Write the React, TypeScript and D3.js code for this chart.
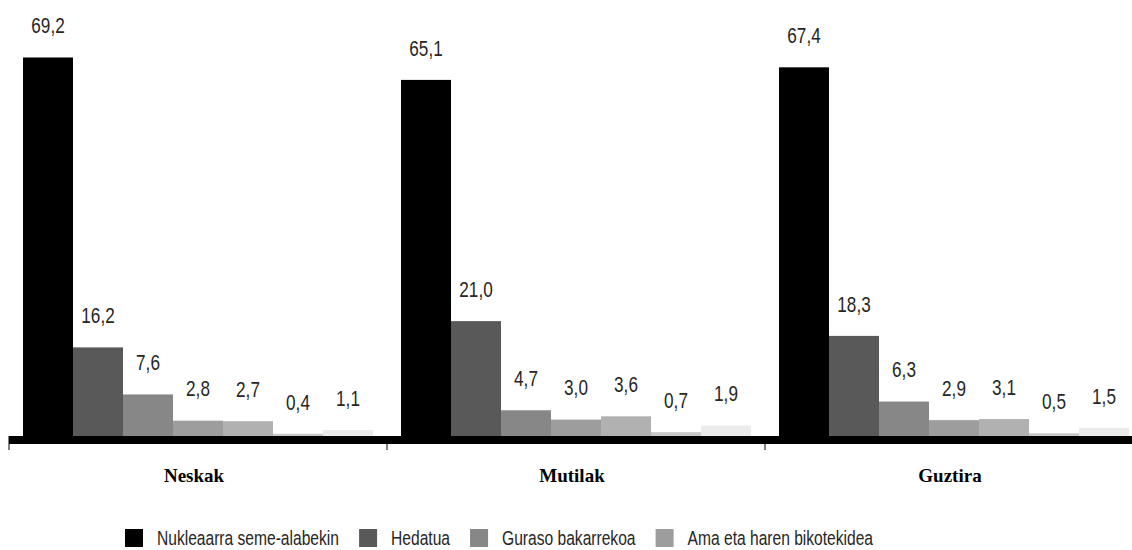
import React from "react";
import * as d3 from "d3";

const categories = ["Neskak", "Mutilak", "Guztira"];
const seriesIndex = [0, 1, 2, 3, 4, 5, 6];
const legendNames = [
  "Nukleaarra seme-alabekin",
  "Hedatua",
  "Guraso bakarrekoa",
  "Ama eta haren bikotekidea",
];
const seriesColors = ["#000000", "#595959", "#878787", "#9d9d9d", "#b1b1b1", "#c8c8c8", "#ebebeb"];
const valuesNeskak = [69.2, 16.2, 7.6, 2.8, 2.7, 0.4, 1.1];
const valuesMutilak = [65.1, 21.0, 4.7, 3.0, 3.6, 0.7, 1.9];
const valuesGuztira = [67.4, 18.3, 6.3, 2.9, 3.1, 0.5, 1.5];
const groupValues = [valuesNeskak, valuesMutilak, valuesGuztira];

const W = 1132;
const H = 550;
const labelFont = "'Liberation Sans', Arial, sans-serif";

function measure(text: string, size: number): number {
  const c = document.createElement("canvas").getContext("2d");
  if (!c) return text.length * size * 0.5;
  c.font = `${size}px "Liberation Sans", Arial, sans-serif`;
  return c.measureText(text).width;
}

function NarrowText(props: {
  x: number;
  y: number;
  size: number;
  sx: number;
  anchor?: string;
  children: string;
}) {
  return (
    <g transform={`translate(${props.x},${props.y}) scale(${props.sx},1)`}>
      <text
        x={0}
        y={0}
        dominantBaseline="central"
        textAnchor={props.anchor || "start"}
        fontFamily={labelFont}
        fontSize={props.size}
        fill="#262626"
      >
        {props.children}
      </text>
    </g>
  );
}

export default function App() {
  const x0 = d3.scaleBand<string>().domain(categories).range([9, 1143]).padding(0);
  const x1 = d3.scaleBand<number>().domain(seriesIndex).range([14, 364]).padding(0);
  const y = d3.scaleLinear().domain([0, 70]).range([436, 53.1]);
  const fmt = (v: number) => d3.format(".1f")(v).replace(".", ",");

  const ticks = categories.map((c) => x0(c) as number);

  // legend layout
  const sw = 18;
  const legendSize = 19.5;
  const legendSx = 0.8;
  let lx = 125;
  const legendItems = legendNames.map((n, i) => {
    const item = { n, i, x: lx };
    const tw = measure(n, legendSize) * legendSx;
    lx += sw + 14 + tw + 20;
    return item;
  });

  return (
    <svg
      width={W}
      height={H}
      style={{ position: "absolute", left: 0, top: 0, background: "#fff" }}
    >
      {categories.map((c, gi) => (
        <g key={c} transform={`translate(${x0(c)},0)`}>
          {groupValues[gi].map((v, si) => (
            <rect
              key={si}
              x={x1(si)}
              y={y(v)}
              width={x1.bandwidth()}
              height={y(0) - y(v)}
              fill={seriesColors[si]}
            />
          ))}
          {groupValues[gi].map((v, si) => (
            <NarrowText
              key={"t" + si}
              x={(x1(si) as number) + x1.bandwidth() / 2}
              y={y(v) - 32}
              size={22}
              sx={0.78}
              anchor="middle"
            >
              {fmt(v)}
            </NarrowText>
          ))}
          <text
            x={x0.bandwidth() / 2 - 4}
            y={482}
            textAnchor="middle"
            fontFamily="'Liberation Serif', 'Times New Roman', serif"
            fontWeight="bold"
            fontSize={19}
            fill="#000"
          >
            {c}
          </text>
        </g>
      ))}
      <rect x={9} y={y(0)} width={W - 9} height={8} fill="#000" />
      {ticks.map((t, i) => (
        <line
          key={i}
          x1={t}
          x2={t}
          y1={y(0) + (i === 0 ? 0 : 8)}
          y2={y(0) + 14}
          stroke="#000"
          strokeWidth={1}
        />
      ))}
      {legendItems.map((it) => (
        <g key={it.n}>
          <rect x={it.x} y={529} width={sw} height={18} fill={seriesColors[it.i]} />
          <NarrowText x={it.x + sw + 14} y={538} size={legendSize} sx={legendSx}>
            {it.n}
          </NarrowText>
        </g>
      ))}
    </svg>
  );
}
